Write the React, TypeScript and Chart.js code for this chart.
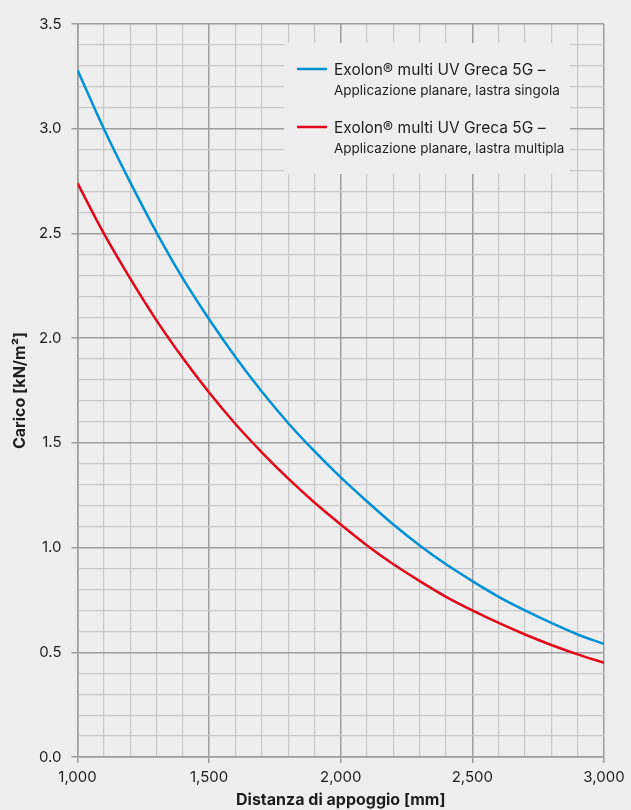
import React, { useEffect, useRef } from "react";
import { Chart, registerables } from "chart.js";

Chart.register(...registerables);

const spans = [1000, 1100, 1200, 1300, 1400, 1500, 1600, 1700, 1800, 1900, 2000, 2100, 2200, 2300, 2400, 2500, 2600, 2700, 2800, 2900, 3000];
const singleSheetLoad = [3.28, 3.0, 2.745, 2.505, 2.285, 2.09, 1.91, 1.745, 1.595, 1.46, 1.335, 1.22, 1.11, 1.01, 0.92, 0.84, 0.765, 0.7, 0.64, 0.585, 0.54];
const multiSheetLoad = [2.74, 2.5, 2.285, 2.085, 1.905, 1.74, 1.59, 1.455, 1.33, 1.215, 1.11, 1.01, 0.92, 0.84, 0.765, 0.7, 0.64, 0.585, 0.535, 0.49, 0.45];
const seriesTitle = "Exolon® multi UV Greca 5G –";
const seriesNames = ["Applicazione planare, lastra singola", "Applicazione planare, lastra multipla"];
const xTitle = "Distanza di appoggio [mm]";
const yTitle = "Carico [kN/m²]";

const BG = "#eeeeee";
const MAJOR = "#9e9e9e";
const MINOR = "#c8c8c8";
const BLUE = "#0090d5";
const RED = "#e3061b";
const TEXT = "#1e1e1e";
const FONT = "Inter";

const isMajorX = (v: number) => Math.round(v) % 500 === 0;
const isMajorY = (v: number) => Math.round(v * 10) % 5 === 0;

const legendPlugin = {
  id: "boxLegend",
  afterDraw(chart: any) {
    const ctx = chart.ctx;
    ctx.save();
    ctx.fillStyle = BG;
    ctx.fillRect(284, 43, 286, 131);
    const items = [
      { color: BLUE, y: 69, name: seriesNames[0] },
      { color: RED, y: 127, name: seriesNames[1] },
    ];
    items.forEach((it) => {
      ctx.strokeStyle = it.color;
      ctx.lineWidth = 2.5;
      ctx.beginPath();
      ctx.moveTo(297, it.y);
      ctx.lineTo(327, it.y);
      ctx.stroke();
      ctx.fillStyle = TEXT;
      ctx.textBaseline = "middle";
      ctx.textAlign = "left";
      ctx.font = `15.5px ${FONT}`;
      ctx.fillText(seriesTitle, 334, it.y + 1);
      ctx.font = `13.5px ${FONT}`;
      ctx.fillText(it.name, 334, it.y + 22);
    });
    ctx.restore();
  },
};

export default function App() {
  const ref = useRef<HTMLCanvasElement | null>(null);

  useEffect(() => {
    document.body.style.margin = "0";
    document.body.style.background = BG;
    const canvas = ref.current;
    if (!canvas) return;
    const chart = new Chart(canvas, {
      type: "line",
      data: {
        datasets: [
          {
            label: seriesTitle + " " + seriesNames[0],
            data: spans.map((x, i) => ({ x, y: singleSheetLoad[i] })),
            borderColor: BLUE,
            borderWidth: 2.5,
            pointRadius: 0,
            cubicInterpolationMode: "monotone",
            fill: false,
          },
          {
            label: seriesTitle + " " + seriesNames[1],
            data: spans.map((x, i) => ({ x, y: multiSheetLoad[i] })),
            borderColor: RED,
            borderWidth: 2.5,
            pointRadius: 0,
            cubicInterpolationMode: "monotone",
            fill: false,
          },
        ],
      },
      options: {
        animation: false,
        responsive: false,
        maintainAspectRatio: false,
        layout: { padding: { top: 24, right: 27, left: 0, bottom: 0 } },
        plugins: { legend: { display: false }, tooltip: { enabled: false } },
        scales: {
          x: {
            type: "linear",
            min: 1000,
            max: 3000,
            afterFit: (s: any) => {
              s.height = 53;
            },
            border: { color: MAJOR, width: 1.5 },
            grid: {
              color: (c: any) => (isMajorX(c.tick.value) ? MAJOR : MINOR),
              lineWidth: (c: any) => (isMajorX(c.tick.value) ? 1.5 : 1.2),
              tickColor: (c: any) => (isMajorX(c.tick.value) ? MAJOR : "rgba(0,0,0,0)"),
              tickLength: 6,
              drawTicks: true,
            },
            ticks: {
              stepSize: 100,
              autoSkip: false,
              maxRotation: 0,
              padding: 5,
              color: TEXT,
              font: { family: FONT, size: 15 },
              callback: (v: any) => (isMajorX(Number(v)) ? Number(v).toLocaleString("en-US") : ""),
            },
            title: {
              display: true,
              text: xTitle,
              color: TEXT,
              font: { family: FONT, size: 16, weight: "bold" },
              padding: { top: 0, bottom: 0 },
            },
          },
          y: {
            type: "linear",
            min: 0,
            max: 3.5,
            afterFit: (s: any) => {
              s.width = 77.5;
            },
            border: { color: MAJOR, width: 1.5 },
            grid: {
              color: (c: any) => (isMajorY(c.tick.value) ? MAJOR : MINOR),
              lineWidth: (c: any) => (isMajorY(c.tick.value) ? 1.5 : 1.2),
              tickColor: (c: any) => (isMajorY(c.tick.value) ? MAJOR : "rgba(0,0,0,0)"),
              tickLength: 6,
              drawTicks: true,
            },
            ticks: {
              stepSize: 0.1,
              autoSkip: false,
              padding: 10,
              color: TEXT,
              font: { family: FONT, size: 15 },
              callback: (v: any) => (isMajorY(Number(v)) ? Number(v).toFixed(1) : ""),
            },
            title: {
              display: true,
              text: yTitle,
              color: TEXT,
              font: { family: FONT, size: 16, weight: "bold" },
              padding: { top: 10.5, bottom: 0 },
            },
          },
        },
      },
      plugins: [legendPlugin],
    });
    return () => chart.destroy();
  }, []);

  return (
    <div style={{ width: 631, height: 810, background: BG }}>
      <canvas ref={ref} width={631} height={810} style={{ display: "block", width: 631, height: 810 }} />
    </div>
  );
}
